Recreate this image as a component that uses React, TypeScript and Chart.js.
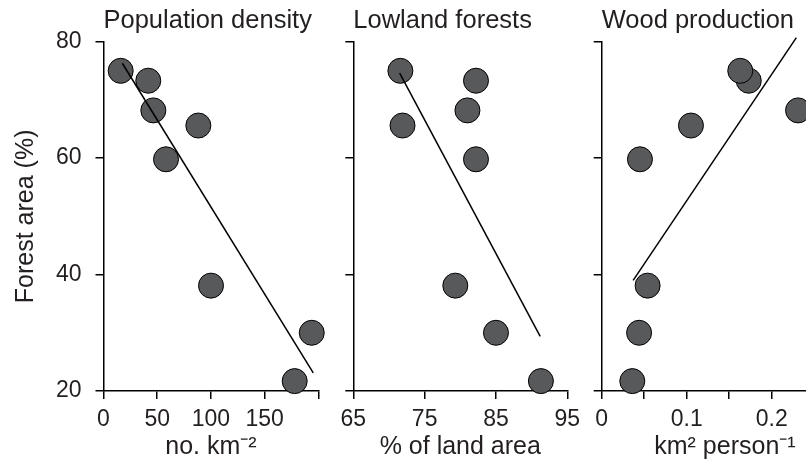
import React, { useEffect, useRef } from 'react';
import { Chart, registerables } from 'chart.js';

Chart.register(...registerables);

// ---------- data ----------
// forest area (%) for the eight units, shared by all three panels
const forestArea = [75.0, 73.3, 68.2, 65.6, 59.8, 38.1, 30.0, 21.7];
// panel x values, same order as forestArea
const popDensity = [16.0, 41.7, 46.4, 88.3, 58.2, 100.1, 193.9, 178.0];
const lowlandForest = [71.6, 82.2, 81.0, 71.9, 82.2, 79.3, 85.0, 91.3];
const woodProduction = [0.163, 0.173, 0.231, 0.105, 0.045, 0.054, 0.044, 0.036];

// fitted trend line end points
const popTrendX = [17.5, 195.3];
const popTrendY = [76.3, 23.1];
const lowTrendX = [71.5, 91.2];
const lowTrendY = [74.6, 29.4];
const woodTrendX = [0.037, 0.229];
const woodTrendY = [39.0, 80.7];

// ticks
const yTicks = [20, 40, 60, 80];
const popTicks = [0, 50, 100, 150, 200];
const popTickLabels = ['0', '50', '100', '150', ''];
const lowTicks = [65, 75, 85, 95];
const lowTickLabels = ['65', '75', '85', '95'];
const woodTicks = [0, 0.05, 0.1, 0.15, 0.2, 0.25];
const woodTickLabels = ['0', '', '0.1', '', '0.2', ''];

const titles = ['Population density', 'Lowland forests', 'Wood production'];
const xTitles = ['no. km\u207B\u00B2', '% of land area', 'km\u00B2 person\u207B\u00B9'];
const yTitle = 'Forest area (%)';

// ---------- styles / layout ----------
const FONT = "'Liberation Sans', Arial, Helvetica, sans-serif";
const TEXT = '#231f20';
const POINT_FILL = '#58595b';
const W = 806;
const H = 461;

type Panel = {
  title: string;
  xTitle: string;
  xs: number[];
  trendX: number[];
  trendY: number[];
  xMin: number;
  xMax: number;
  ticks: number[];
  tickLabels: string[];
  canvasLeft: number;
  canvasWidth: number;
  plotLeft: number;
  plotRight: number;
  first: boolean;
};

const panels: Panel[] = [
  {
    title: titles[0], xTitle: xTitles[0], xs: popDensity, trendX: popTrendX, trendY: popTrendY,
    xMin: 0, xMax: 200, ticks: popTicks, tickLabels: popTickLabels,
    canvasLeft: 0, canvasWidth: 340, plotLeft: 103.5, plotRight: 318.3, first: true,
  },
  {
    title: titles[1], xTitle: xTitles[1], xs: lowlandForest, trendX: lowTrendX, trendY: lowTrendY,
    xMin: 65, xMax: 95, ticks: lowTicks, tickLabels: lowTickLabels,
    canvasLeft: 330, canvasWidth: 260, plotLeft: 353.3, plotRight: 567.3, first: false,
  },
  {
    title: titles[2], xTitle: xTitles[2], xs: woodProduction, trendX: woodTrendX, trendY: woodTrendY,
    xMin: 0, xMax: 0.29, ticks: woodTicks, tickLabels: woodTickLabels,
    canvasLeft: 580, canvasWidth: 290, plotLeft: 601.7, plotRight: 848.2, first: false,
  },
];

function makeConfig(p: Panel): any {
  const pts = p.xs.map((x, i) => ({ x, y: forestArea[i] })).reverse();
  const trend = p.trendX.map((x, i) => ({ x, y: p.trendY[i] }));
  const gridOpts = {
    display: true,
    drawOnChartArea: false,
    drawTicks: true,
    tickLength: 8,
    color: '#000',
    lineWidth: 1.5,
  };
  const borderOpts = { display: true, color: '#000', width: 1.5 };
  return {
    type: 'scatter',
    data: {
      datasets: [
        {
          type: 'line',
          data: trend,
          borderColor: '#000',
          borderWidth: 1.5,
          pointRadius: 0,
          fill: false,
          clip: false,
          order: 0,
        },
        {
          type: 'scatter',
          data: pts,
          backgroundColor: POINT_FILL,
          borderColor: '#000',
          borderWidth: 1,
          pointRadius: 12.5,
          pointHoverRadius: 12.5,
          clip: false,
          order: 1,
        },
      ],
    },
    options: {
      responsive: false,
      maintainAspectRatio: false,
      animation: false,
      events: [],
      layout: {
        padding: {
          left: 0,
          top: 0,
          bottom: 0,
          right: p.canvasWidth - (p.plotRight - p.canvasLeft),
        },
      },
      plugins: {
        legend: { display: false },
        tooltip: { enabled: false },
        title: {
          display: true,
          text: p.title,
          align: 'start',
          fullSize: false,
          color: TEXT,
          font: { family: FONT, size: 25.5, weight: 'normal', lineHeight: 1.2 },
          padding: { top: 5.2, bottom: 5.9 },
        },
      },
      scales: {
        x: {
          type: 'linear',
          position: 'bottom',
          min: p.xMin,
          max: p.xMax,
          afterBuildTicks: (s: any) => {
            s.ticks = p.ticks.map((v) => ({ value: v }));
          },
          afterFit: (s: any) => {
            s.height = H - 391;
          },
          ticks: {
            autoSkip: false,
            maxRotation: 0,
            minRotation: 0,
            padding: 7,
            color: TEXT,
            font: { family: FONT, size: 23 },
            callback: (_v: any, i: number) => p.tickLabels[i],
          },
          grid: gridOpts,
          border: borderOpts,
          title: {
            display: true,
            text: p.xTitle,
            color: TEXT,
            font: { family: FONT, size: 25, lineHeight: 1.1 },
            padding: { top: 0, bottom: 0 },
          },
        },
        y: {
          type: 'linear',
          position: 'left',
          min: 20,
          max: 80,
          afterBuildTicks: (s: any) => {
            s.ticks = yTicks.map((v) => ({ value: v }));
          },
          afterFit: (s: any) => {
            s.width = p.plotLeft - p.canvasLeft;
          },
          ticks: {
            padding: 14,
            color: TEXT,
            font: { family: FONT, size: 23 },
            callback: (v: any) => (p.first ? String(v) : ''),
          },
          grid: gridOpts,
          border: borderOpts,
          title: {
            display: p.first,
            text: yTitle,
            color: TEXT,
            font: { family: FONT, size: 25, lineHeight: 1.2 },
            padding: { top: 11, bottom: 0 },
          },
        },
      },
    },
  };
}

export default function App() {
  const refs = useRef<(HTMLCanvasElement | null)[]>([]);

  useEffect(() => {
    const charts = panels.map((p, i) => {
      const c = refs.current[i] as HTMLCanvasElement;
      return new Chart(c, makeConfig(p));
    });
    return () => charts.forEach((c) => c.destroy());
  }, []);

  return (
    <div
      style={{
        position: 'absolute',
        left: 0,
        top: 0,
        width: W,
        height: H,
        overflow: 'hidden',
        background: '#fff',
      }}
    >
      {panels.map((p, i) => (
        <canvas
          key={i}
          ref={(el) => {
            refs.current[i] = el;
          }}
          width={p.canvasWidth}
          height={H}
          style={{
            position: 'absolute',
            left: p.canvasLeft,
            top: 0,
            width: p.canvasWidth,
            height: H,
          }}
        />
      ))}
    </div>
  );
}
